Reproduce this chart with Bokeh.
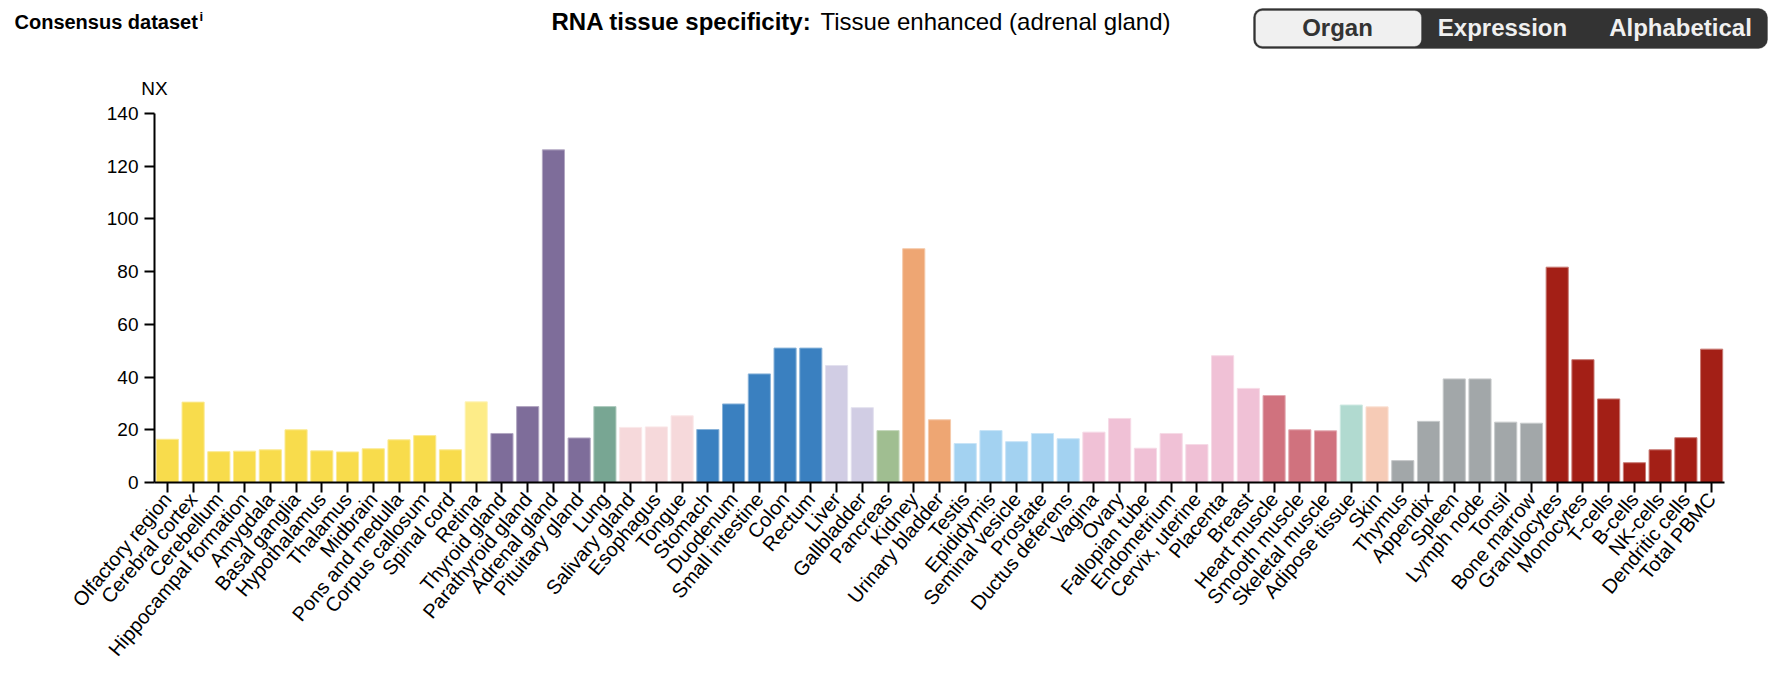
import math
from bokeh.plotting import figure
from bokeh.layouts import column
from bokeh.models import (ColumnDataSource, Range1d, FixedTicker,
                          BoxAnnotation)
from bokeh.core.properties import value
from bokeh.embed import file_html
from bokeh.resources import INLINE

# ---------------- data ----------------
categories = [
    "Olfactory region", "Cerebral cortex", "Cerebellum", "Hippocampal formation",
    "Amygdala", "Basal ganglia", "Hypothalamus", "Thalamus", "Midbrain",
    "Pons and medulla", "Corpus callosum", "Spinal cord", "Retina",
    "Thyroid gland", "Parathyroid gland", "Adrenal gland", "Pituitary gland",
    "Lung", "Salivary gland", "Esophagus", "Tongue", "Stomach", "Duodenum",
    "Small intestine", "Colon", "Rectum", "Liver", "Gallbladder", "Pancreas",
    "Kidney", "Urinary bladder", "Testis", "Epididymis", "Seminal vesicle",
    "Prostate", "Ductus deferens", "Vagina", "Ovary", "Fallopian tube",
    "Endometrium", "Cervix, uterine", "Placenta", "Breast", "Heart muscle",
    "Smooth muscle", "Skeletal muscle", "Adipose tissue", "Skin", "Thymus",
    "Appendix", "Spleen", "Lymph node", "Tonsil", "Bone marrow",
    "Granulocytes", "Monocytes", "T-cells", "B-cells", "NK-cells",
    "Dendritic cells", "Total PBMC",
]
nx_values = [
    16.4, 30.5, 11.7, 11.9, 12.4, 20.0, 12.0, 11.6, 12.8, 16.2, 17.8, 12.4, 30.6,
    18.6, 28.8, 126.2, 16.9,
    28.8, 20.9, 21.1, 25.3, 20.1, 29.8, 41.2, 51.0, 51.0, 44.4, 28.4, 19.7,
    88.7, 23.8, 14.8, 19.7, 15.5, 18.6, 16.6, 19.1, 24.3, 13.0, 18.6, 14.4,
    48.1, 35.7, 33.0, 20.0, 19.6, 29.4, 28.7, 8.3, 23.2, 39.3, 39.3, 22.9,
    22.5, 81.7, 46.6, 31.7, 7.5, 12.4, 17.0, 50.6,
]
tissue_groups = (
    ["brain"] * 12 + ["eye"] + ["endocrine"] * 4 + ["lung"] + ["oral"] * 3 +
    ["gi"] * 5 + ["liver"] * 2 + ["pancreas"] + ["kidney"] * 2 + ["male"] * 5 +
    ["female"] * 7 + ["muscle"] * 3 + ["adipose"] + ["skin"] + ["lymphoid"] * 6 +
    ["blood"] * 7
)
group_colors = {
    "brain": "#F8DC4C", "eye": "#FDEC88", "endocrine": "#7E6D9A",
    "lung": "#78A693", "oral": "#F6D9DB", "gi": "#3A80C0", "liver": "#D1CDE4",
    "pancreas": "#A0BE91", "kidney": "#EEA673", "male": "#A3D2F1",
    "female": "#F0C1D6", "muscle": "#D0727E", "adipose": "#B1DAD0",
    "skin": "#F6CBB6", "lymphoid": "#A2A7A9", "blood": "#A31F16",
}
y_ticks = [0, 20, 40, 60, 80, 100, 120, 140]

title_left = "Consensus dataset"
title_sup = "i"
title_bold = "RNA tissue specificity:"
title_rest = "Tissue enhanced (adrenal gland)"
buttons = ["Organ", "Expression", "Alphabetical"]
y_label = "NX"

FONT = "Liberation Sans"


def tint(hex_color, f=0.4):
    h = hex_color.lstrip("#")
    r, g, b = (int(h[i:i + 2], 16) for i in (0, 2, 4))
    r, g, b = (round(c + (255 - c) * f) for c in (r, g, b))
    return "#%02x%02x%02x" % (r, g, b)


W = 1774
HH = 101                 # header height (window px 0..101)
MH = 579                 # chart height (window px 101..680)
BL, BR, BT, BB = 154, 50, 12, 198

# ---------------- header (pixel coordinates) ----------------
hp = figure(width=W, height=HH, x_range=Range1d(0, W), y_range=Range1d(0, HH),
            output_backend="svg", toolbar_location=None,
            x_axis_location=None, y_axis_location=None, min_border=0,
            min_border_left=0, min_border_right=0, min_border_top=0,
            min_border_bottom=0)
hp.outline_line_color = None
hp.xgrid.visible = False
hp.ygrid.visible = False


def Y(wy):
    return HH - wy


hp.add_layout(BoxAnnotation(left=1253, right=1767, top=Y(8), bottom=Y(48),
                            fill_color="#333333", fill_alpha=1.0,
                            line_color="#333333", line_width=1,
                            border_radius=9))
hp.add_layout(BoxAnnotation(left=1255, right=1421, top=Y(10), bottom=Y(46),
                            fill_color="#F0F0F0", fill_alpha=1.0,
                            line_color="#333333", line_width=1,
                            border_radius=7))


def txt(x, y, text, size, style="normal", align="left", color="#000000"):
    # y is the vertical centre of the text (window px)
    hp.text(x=[x], y=[Y(y)], text=[text], text_font=value(FONT),
            text_font_size=size, text_font_style=style, text_align=align,
            text_baseline="middle", text_color=color, level="overlay")


txt(14, 21, title_left, "20px", "bold")
txt(199, 16, title_sup, "13px", "bold")
txt(551, 21, title_bold, "24px", "bold")
txt(820, 21, title_rest, "24px")
for bx, t, col in zip([1337, 1502, 1680], buttons,
                      ["#333333", "#F0F0F0", "#F0F0F0"]):
    txt(bx, 27, t, "24px", "bold", "center", col)
txt(BL, 88, y_label, "19px", align="center")

# ---------------- chart ----------------
n = len(categories)
pos = list(range(n))
fills = [group_colors[g] for g in tissue_groups]
src = ColumnDataSource(dict(pos=pos, cat=categories, nx=nx_values, fill=fills,
                            edge=[tint(c) for c in fills]))

p = figure(width=W, height=MH, x_range=Range1d(-0.5, n - 0.5),
           y_range=Range1d(0, 140), output_backend="svg",
           toolbar_location=None, min_border_left=BL, min_border_right=BR,
           min_border_top=BT, min_border_bottom=BB)
p.vbar(x="pos", top="nx", width=0.86, source=src, fill_color="fill",
       line_color="edge", line_width=1)

p.outline_line_color = None
p.xgrid.visible = False
p.ygrid.visible = False

for ax in (p.xaxis[0], p.yaxis[0]):
    ax.axis_line_color = "#000000"
    ax.axis_line_width = 2
    ax.major_tick_line_color = "#000000"
    ax.major_tick_line_width = 2
    ax.major_tick_in = 0
    ax.major_tick_out = 10
    ax.minor_tick_line_color = None
    ax.major_label_text_font = FONT
    ax.major_label_text_color = "#000000"

p.xaxis[0].ticker = FixedTicker(ticks=pos)
p.xaxis[0].major_label_overrides = {i: c for i, c in zip(pos, categories)}
p.xaxis[0].major_label_orientation = math.radians(50)
p.xaxis[0].major_label_standoff = 3
p.xaxis[0].major_label_text_font_size = "20px"
p.yaxis[0].ticker = FixedTicker(ticks=y_ticks)
p.yaxis[0].major_label_standoff = 6
p.yaxis[0].major_label_text_font_size = "19px"

layout = column(column(hp, spacing=0), p, spacing=0)
open("out.html", "w").write(file_html(layout, INLINE))
